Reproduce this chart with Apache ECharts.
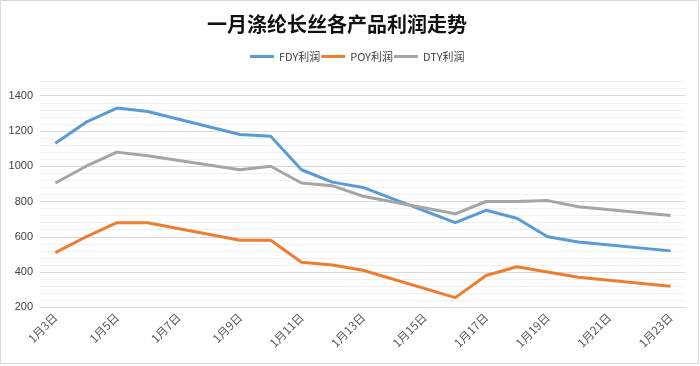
<!DOCTYPE html>
<html>
<head>
<meta charset="utf-8">
<script src="https://cdn.jsdelivr.net/npm/echarts@6/dist/echarts.min.js"></script>
<style>
html,body{margin:0;padding:0;background:#fff;}
#chart{width:700px;height:366px;}
</style>
</head>
<body>
<div id="chart"></div>
<script>
const titleText = '一月涤纶长丝各产品利润走势';
const categories = ['1月3日','1月4日','1月5日','1月6日','1月7日','1月8日','1月9日','1月10日','1月11日','1月12日','1月13日','1月14日','1月15日','1月16日','1月17日','1月18日','1月19日','1月20日','1月21日','1月22日','1月23日'];
const seriesNames = ['FDY利润','POY利润','DTY利润'];
const fdy = [1130,1250,1330,1310,null,null,1180,1170,980,910,880,null,null,680,750,705,600,570,null,null,520];
const poy = [510,600,680,680,null,null,580,580,455,440,410,null,null,255,380,430,400,370,null,null,320];
const dty = [905,1000,1080,1060,null,null,980,1000,905,890,830,null,null,730,800,800,805,770,null,null,720];
const yTickLabels = [200,400,600,800,1000,1200,1400];

const chart = echarts.init(document.getElementById('chart'));
const colors = ['#5B9BD5','#ED7D31','#A5A5A5'];
const datasets = [fdy, poy, dty];
chart.setOption({
  animation:false,
  color: colors,
  title:{
    text:titleText,
    left:202, top:9,
    textStyle:{fontSize:20,fontWeight:'bold',color:'#111',fontFamily:'Noto Sans CJK SC'}
  },
  legend:{
    data:seriesNames,
    left:245, top:46,
    icon:'rect', itemWidth:24, itemHeight:3, itemGap:1,
    textStyle:{fontSize:11,color:'#404040',fontFamily:'Noto Sans CJK SC'}
  },
  graphic:[{type:'rect',shape:{x:0.5,y:0.5,width:698,height:363},style:{fill:'none',stroke:'#d9d9d9',lineWidth:1},silent:true}],
  grid:{left:40,right:14,top:81.6,bottom:58.7,containLabel:false},
  xAxis:{
    type:'category',
    data:categories,
    boundaryGap:true,
    axisLine:{lineStyle:{color:'#d9d9d9'}},
    axisTick:{interval:1,length:5,lineStyle:{color:'#d9d9d9'}},
    axisLabel:{interval:1,rotate:45,fontSize:11.5,color:'#595959',margin:8,fontFamily:'Noto Sans CJK SC'}
  },
  yAxis:{
    type:'value',
    min:200,max:1480,interval:40,
    axisLine:{show:false},
    axisTick:{show:false},
    axisLabel:{
      fontSize:11,color:'#404040',margin:7,
      formatter:function(v){return yTickLabels.indexOf(v)>=0?String(v):'';}
    },
    splitLine:{lineStyle:{color:['#d9d9d9','#f0f0f0','#f0f0f0','#f0f0f0','#f0f0f0'],width:1}}
  },
  series: seriesNames.map((n,i)=>({
    name:n,type:'line',data:datasets[i],
    symbol:'none',connectNulls:true,
    lineStyle:{width:3,color:colors[i]}
  }))
});
</script>
</body>
</html>
